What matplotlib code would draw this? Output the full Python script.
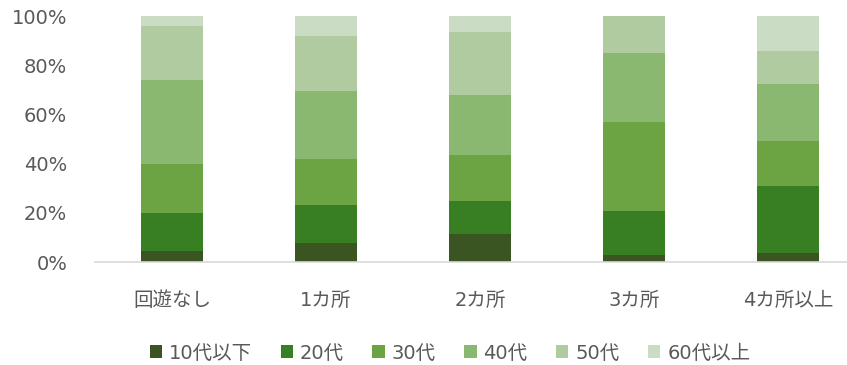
import matplotlib
matplotlib.use("Agg")
import matplotlib.pyplot as plt
from matplotlib.ticker import PercentFormatter

plt.rcParams['font.family'] = ['DejaVu Sans', 'Noto Sans CJK JP']

# 回遊箇所数別の年代構成 (%)
categories = ['回遊なし', '1カ所', '2カ所', '3カ所', '4カ所以上']
age_groups = ['10代以下', '20代', '30代', '40代', '50代', '60代以上']
age_10s = [4.5, 7.7, 11.4, 2.8, 3.7]
age_20s = [15.4, 15.4, 13.4, 17.9, 27.2]
age_30s = [19.9, 18.7, 18.7, 36.2, 18.3]
age_40s = [34.1, 27.6, 24.4, 28.0, 23.2]
age_50s = [22.0, 22.4, 25.6, 15.1, 13.4]
age_60s = [4.1, 8.2, 6.5, 0.0, 14.2]
colors = ['#3b5522', '#387e22', '#6ca443', '#8bb870', '#afcb9f', '#cadcc3']

series = [age_10s, age_20s, age_30s, age_40s, age_50s, age_60s]

fig = plt.figure(figsize=(8.47, 3.65), dpi=100)
ax = fig.add_axes([95 / 847, 103 / 365, 752 / 847, 246 / 365])

x = range(len(categories))
bottom = [0.0] * len(categories)
for name, vals, col in zip(age_groups, series, colors):
    ax.bar(x, vals, width=0.4, bottom=bottom, color=col, label=name)
    bottom = [b + v for b, v in zip(bottom, vals)]

ax.set_xlim(-0.5, -0.5 + 752 / 154)
ax.set_ylim(0, 100)
ax.set_yticks([0, 20, 40, 60, 80, 100])
ax.yaxis.set_major_formatter(PercentFormatter(decimals=0))
ax.set_xticks(list(x))
ax.set_xticklabels(categories)

for s in ['top', 'right', 'left']:
    ax.spines[s].set_visible(False)
ax.spines['bottom'].set_color('#d9d9d9')
ax.spines['bottom'].set_linewidth(1.2)
ax.tick_params(axis='y', length=0, pad=20, labelsize=14, labelcolor='#595959')
ax.tick_params(axis='x', length=0, pad=21, labelsize=14, labelcolor='#595959')

leg = fig.legend(loc='center', bbox_to_anchor=(450 / 847, 1 - 353 / 365), ncol=6,
                 frameon=False, fontsize=14, handlelength=0.65, handleheight=0.65,
                 handletextpad=0.35, columnspacing=1.45)
for t in leg.get_texts():
    t.set_color('#595959')

fig.savefig('out.png', dpi=100)
